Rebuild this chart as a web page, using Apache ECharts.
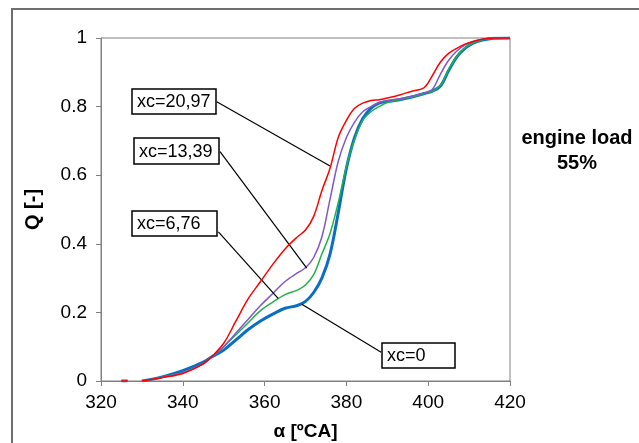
<!DOCTYPE html>
<html>
<head>
<meta charset="utf-8">
<script src="https://cdn.jsdelivr.net/npm/echarts@6/dist/echarts.min.js"></script>
<style>
  html, body { margin: 0; padding: 0; background: #fff; }
  #main { width: 639px; height: 443px; }
</style>
</head>
<body>
<div id="main"></div>
<script>
// crank angle [oCA]
const angles = [325, 326.5, 328, 330, 335, 340, 345, 347, 350, 353, 356, 359, 362, 365, 368, 370, 372, 374, 376, 378,
  380, 382, 384, 386, 388, 390, 393, 396, 399, 401, 403, 405, 407, 409, 411, 413, 416, 420];

// burned fraction Q [-], one array per xc
const qXc0 = [0, 0, null, 0, 0.012, 0.03, 0.055, 0.07, 0.09, 0.12, 0.15, 0.175, 0.195, 0.212, 0.22, 0.232, 0.258, 0.30, 0.37, 0.49,
  0.62, 0.71, 0.765, 0.795, 0.81, 0.815, 0.82, 0.828, 0.838, 0.845, 0.86, 0.905, 0.945, 0.97, 0.985, 0.993, 0.999, 1];
const qXc676 = [0, 0, null, 0, 0.011, 0.025, 0.05, 0.07, 0.1, 0.135, 0.17, 0.205, 0.23, 0.252, 0.265, 0.28, 0.31, 0.37, 0.43, 0.52,
  0.625, 0.705, 0.76, 0.785, 0.8, 0.812, 0.82, 0.828, 0.838, 0.845, 0.862, 0.908, 0.947, 0.972, 0.986, 0.994, 0.999, 1];
const qXc1339 = [0, 0, null, 0, 0.011, 0.024, 0.05, 0.07, 0.1, 0.14, 0.18, 0.22, 0.255, 0.29, 0.315, 0.33, 0.36, 0.42, 0.53, 0.64,
  0.71, 0.755, 0.785, 0.80, 0.812, 0.818, 0.823, 0.83, 0.84, 0.85, 0.895, 0.935, 0.962, 0.98, 0.99, 0.996, 1, 1];
const qXc2097 = [0, 0, null, 0, 0.01, 0.022, 0.05, 0.07, 0.11, 0.175, 0.24, 0.29, 0.34, 0.385, 0.42, 0.44, 0.48, 0.555, 0.62, 0.71,
  0.76, 0.795, 0.81, 0.818, 0.82, 0.825, 0.834, 0.845, 0.855, 0.89, 0.93, 0.955, 0.97, 0.982, 0.99, 0.996, 1, 1];

const seriesNames = ['xc=0', 'xc=6,76', 'xc=13,39', 'xc=20,97'];
const seriesColors = ['#0a6fc4', '#22b04b', '#8058c8', '#ff0000'];
const seriesWidths = [3, 1.5, 1.5, 1.5];

// leader lines from label boxes to curves, [angle, Q]
const leaders = [
  [[348.3, 0.814], [376.0, 0.627]],
  [[349.1, 0.669], [370.3, 0.329]],
  [[348.7, 0.435], [363.3, 0.241]],
  [[388.5, 0.084], [369.1, 0.224]]
];
const boxLabels = ['xc=20,97', 'xc=13,39', 'xc=6,76', 'xc=0'];
const boxRects = [[132, 89, 84, 25], [134, 138, 85, 26], [132, 211, 85, 25], [382, 343, 73, 25]];

const font = 'Liberation Sans, Arial, sans-serif';
const pairs = q => angles.map((a, i) => [a, q[i]]);
const allQ = [qXc0, qXc676, qXc1339, qXc2097];

const series = allQ.map((q, i) => ({
  name: seriesNames[i],
  type: 'line',
  data: pairs(q),
  smooth: 0.35,
  showSymbol: false,
  connectNulls: false,
  lineStyle: {color: seriesColors[i], width: seriesWidths[i]},
  itemStyle: {color: seriesColors[i]},
  z: 2 + i
}));

series.push({
  type: 'line',
  data: [],
  silent: true,
  z: 10,
  markLine: {
    silent: true,
    symbol: 'none',
    animation: false,
    label: {show: false},
    lineStyle: {color: '#000', width: 1.2, type: 'solid'},
    data: leaders.map(l => [{coord: l[0]}, {coord: l[1]}])
  }
});

const graphics = [
  {type: 'rect', shape: {x: 12, y: 9, width: 700, height: 500}, style: {fill: 'none', stroke: '#6e6e6e', lineWidth: 2}, z: 0, silent: true},
  {type: 'text', x: 577, y: 138, style: {text: 'engine load', font: 'bold 20px ' + font, fill: '#000', textAlign: 'center', textVerticalAlign: 'middle'}},
  {type: 'text', x: 577, y: 163, style: {text: '55%', font: 'bold 20px ' + font, fill: '#000', textAlign: 'center', textVerticalAlign: 'middle'}}
];
boxRects.forEach((r, i) => {
  graphics.push({type: 'rect', shape: {x: r[0], y: r[1], width: r[2], height: r[3]}, style: {fill: '#fff', stroke: '#000', lineWidth: 1.5}, z: 20});
  graphics.push({type: 'text', x: r[0] + 5, y: r[1] + r[3] / 2 + 1, style: {text: boxLabels[i], font: '18px ' + font, fill: '#000', textVerticalAlign: 'middle'}, z: 21});
});

const chart = echarts.init(document.getElementById('main'), null, {renderer: 'canvas'});
chart.setOption({
  animation: false,
  backgroundColor: '#fff',
  grid: {left: 101, right: 129, top: 38, bottom: 62, outerBoundsMode: 'none', containLabel: false,
    show: true, borderColor: '#808080', borderWidth: 1, backgroundColor: 'transparent'},
  xAxis: {
    type: 'value',
    min: 320,
    max: 420,
    interval: 20,
    name: 'α [ºCA]',
    nameLocation: 'middle',
    nameGap: 41,
    nameTextStyle: {fontFamily: font, fontSize: 19, fontWeight: 'bold', color: '#000'},
    axisLine: {lineStyle: {color: '#808080', width: 1}},
    axisTick: {inside: false, length: 5, lineStyle: {color: '#808080'}},
    axisLabel: {fontFamily: font, fontSize: 19, color: '#000', margin: 12},
    splitLine: {show: false}
  },
  yAxis: {
    type: 'value',
    min: 0,
    max: 1,
    interval: 0.2,
    name: 'Q [-]',
    nameLocation: 'middle',
    nameGap: 58,
    nameRotate: 90,
    nameTextStyle: {fontFamily: font, fontSize: 20, fontWeight: 'bold', color: '#000'},
    axisLine: {show: true, lineStyle: {color: '#808080', width: 1}},
    axisTick: {show: true, inside: false, length: 5, lineStyle: {color: '#808080'}},
    axisLabel: {fontFamily: font, fontSize: 19, color: '#000', margin: 14},
    splitLine: {show: false}
  },
  series: series,
  graphic: graphics
});
</script>
</body>
</html>
